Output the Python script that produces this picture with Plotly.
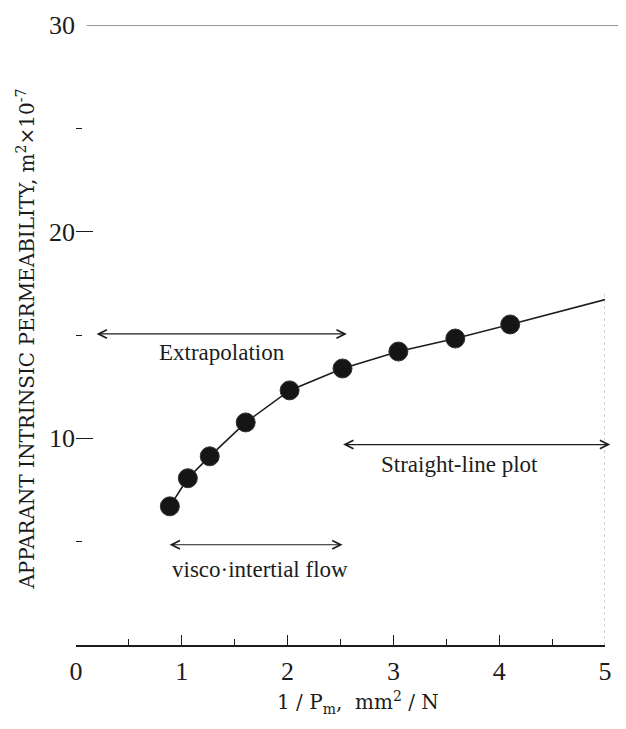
import plotly.graph_objects as go

# data
x_pts = [0.887, 1.057, 1.264, 1.604, 2.019, 2.519, 3.047, 3.585, 4.104]
y_pts = [6.71, 8.07, 9.13, 10.77, 12.32, 13.38, 14.20, 14.83, 15.51]
x_line_end = [5.075]
y_line_end = [16.81]

x_ticks = [0, 1, 2, 3, 4, 5]
y_ticks = [10, 20, 30]
y_minor = [5, 15, 25]

# range arrows: (x_start, x_end, y, label, label_x, label_y)
ranges = [
    (0.18, 2.56, 15.05, "Extrapolation", 1.38, 14.15),
    (2.51, 5.05, 9.70, "Straight-line plot", 3.62, 8.75),
    (0.87, 2.52, 4.85, "visco·intertial flow", 1.74, 3.65),
]

FONT = "Liberation Serif"
WIDE = "DejaVu Serif"
INK = "#1c1c1c"

fig = go.Figure()
fig.add_trace(go.Scatter(
    x=x_pts + x_line_end, y=y_pts + y_line_end, mode="lines",
    line=dict(color=INK, width=1.6), hoverinfo="skip", showlegend=False))
fig.add_trace(go.Scatter(
    x=x_pts, y=y_pts, mode="markers",
    marker=dict(size=19, color="#151515", line=dict(color="#333", width=1)),
    showlegend=False))

annotations = []
for xs, xe, yy, label, lx, ly in ranges:
    annotations.append(dict(
        x=xe, y=yy, ax=xs, ay=yy, xref="x", yref="y", axref="x", ayref="y",
        showarrow=True, arrowhead=5, startarrowhead=5, arrowside="end+start",
        arrowsize=1.4, startarrowsize=1.4, arrowwidth=1.2, arrowcolor=INK, text=""))
    annotations.append(dict(
        x=lx, y=ly, xref="x", yref="y", text=label, showarrow=False,
        font=dict(family=FONT, size=23, color=INK)))

# axis titles placed as paper annotations
annotations.append(dict(
    x=0.533, y=-0.092, xref="paper", yref="paper", yanchor="middle",
    text="1 / P<sub>m</sub>,  mm<sup>2</sup> / N", showarrow=False,
    font=dict(family=WIDE, size=20, color=INK)))
annotations.append(dict(
    x=-0.094, y=0.493, xref="paper", yref="paper", xanchor="center", yanchor="middle",
    textangle=-90,
    text="APPARANT INTRINSIC PERMEABILITY, m<sup>2</sup>×10<sup>-7</sup>", showarrow=False,
    font=dict(family=WIDE, size=20, color=INK)))

fig.update_layout(
    width=610, height=713,
    margin=dict(l=68, r=13, t=17, b=76),
    paper_bgcolor="white", plot_bgcolor="white",
    font=dict(family=FONT, color=INK),
    annotations=annotations,
    xaxis=dict(
        range=[0, 5], tickvals=x_ticks, showgrid=False, zeroline=False,
        automargin=False,
        showline=True, linecolor=INK, linewidth=1.5,
        ticks="inside", ticklen=10, tickcolor=INK, tickwidth=1.2,
        minor=dict(dtick=0.5, ticks="inside", ticklen=6, tickcolor=INK, showgrid=False),
        tickfont=dict(family=FONT, size=26, color=INK),
        ticklabelstandoff=2,
    ),
    yaxis=dict(
        range=[0, 30], tickvals=y_ticks, showgrid=False, zeroline=False,
        automargin=False,
        showline=False, ticks="inside", ticklen=17, tickcolor=INK, tickwidth=1.2,
        minor=dict(tickvals=y_minor, ticks="inside", ticklen=6, tickcolor=INK, showgrid=False),
        tickfont=dict(family=FONT, size=26, color=INK),
    ),
    shapes=[
        dict(type="line", xref="paper", yref="y", x0=0.02, x1=1.03, y0=30, y1=30,
             line=dict(color="#333", width=1.2)),
        dict(type="line", xref="x", yref="y", x0=5, x1=5, y0=0, y1=17,
             line=dict(color="#aaa", width=1, dash="dot")),
    ],
)

fig.write_html("out.html")
